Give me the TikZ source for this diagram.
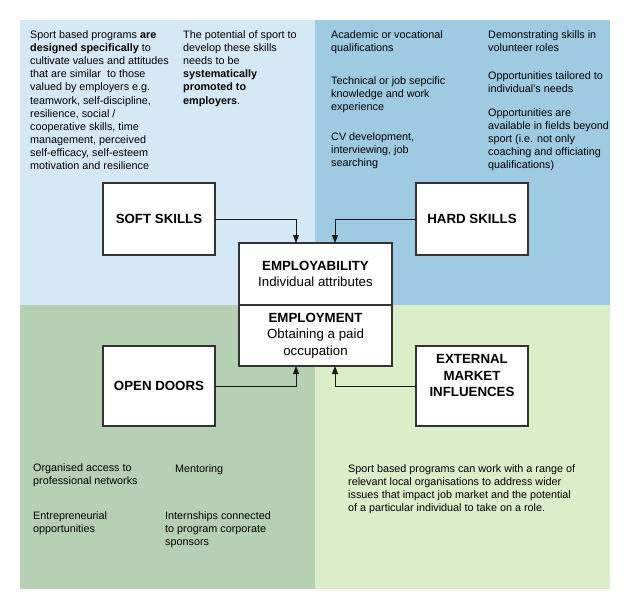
\documentclass[tikz,border=0pt]{standalone}
\usepackage{fontspec}
\setmainfont{Liberation Sans}
\usetikzlibrary{arrows.meta, positioning}
\definecolor{softbg}{HTML}{D5E8F6}
\definecolor{hardbg}{HTML}{9ECAE2}
\definecolor{doorbg}{HTML}{B6D0B4}
\definecolor{extbg}{HTML}{DBEDC9}

\begin{document}
\begin{tikzpicture}[x=1pt, y=-1pt,
  txt/.style={anchor=north west, align=left, inner sep=0pt, font=\fontsize{10.8}{13.1}\selectfont},
  box/.style={draw=black!80, line width=1.3pt, fill=white, outer sep=0pt, minimum width=112pt, minimum height=72pt, align=center, font=\fontsize{13.3}{16.5}\selectfont\bfseries},
  arr/.style={-{Triangle[length=8pt,width=6pt]}, line width=1pt, draw=black!90}]
\useasboundingbox (0,0) rectangle (630,610);
\fill[softbg] (20,20) rectangle (315,305);
\fill[hardbg] (315,20) rectangle (610,305);
\fill[doorbg] (20,305) rectangle (315,589);
\fill[extbg] (315,305) rectangle (610,589);

\node[txt] (softa) at (30,30.5) {Sport based programs \textbf{are}\\\textbf{designed specifically} to\\cultivate values and attitudes\\that are similar\ \ to those\\valued by employers e.g.\\teamwork, self-discipline,\\resilience, social /\\cooperative skills, time\\management, perceived\\self-efficacy, self-esteem\\motivation and resilience};
\node[txt] (softb) at (183,30.5) {The potential of sport to\\develop these skills\\needs to be\\\textbf{systematically}\\\textbf{promoted to}\\\textbf{employers}.};

\node[txt] (harda) at (331,30.5) {Academic or vocational\\qualifications};
\node[txt] (hardb) at (331,76.5) {Technical or job sepcific\\knowledge and work\\experience};
\node[txt] (hardc) at (331,132.5) {CV development,\\interviewing, job\\searching};
\node[txt] (hardd) at (488,30.5) {Demonstrating skills in\\volunteer roles};
\node[txt] (harde) at (488,71.5) {Opportunities tailored to\\individual's needs};
\node[txt] (hardf) at (488,108.5) {Opportunities are\\available in fields beyond\\sport (i.e. not only\\coaching and officiating\\qualifications)};

\node[txt] (doora) at (33,463.5) {Organised access to\\professional networks};
\node[txt] (doorb) at (175,464.5) {Mentoring};
\node[txt] (doorc) at (33,511.5) {Entrepreneurial\\opportunities};
\node[txt] (doord) at (165,511.5) {Internships connected\\to program corporate\\sponsors};

\node[txt] (exta) at (348,464.5) {Sport based programs can work with a range of\\relevant local organisations to address wider\\issues that impact job market and the potential\\of a particular individual to take on a role.};

\node[box] (soft) at (159,219) {SOFT SKILLS};
\node[box] (hard) at (472,219) {HARD SKILLS};
\node[box, minimum height=80pt] (open) at (159,386) {OPEN DOORS};
\node[box, minimum height=80pt] (ext) at (472,386) {};
\node[box, draw=none, fill=none, minimum height=0pt] (extlbl) at ([yshift=10.5pt]ext.center) {EXTERNAL\\MARKET\\INFLUENCES};

\node[box, minimum width=153pt, minimum height=62pt, font=\fontsize{13.3}{16.5}\selectfont] (emp) at (315.5,274) {\textbf{EMPLOYABILITY}\\Individual attributes};
\node[box, minimum width=153pt, minimum height=61pt, font=\fontsize{13.3}{16.5}\selectfont, below=0pt of emp] (job) {\textbf{EMPLOYMENT}\\Obtaining a paid\\occupation};

\draw[arr] (soft.east) -| ([xshift=-19.5pt]emp.north);
\draw[arr] (hard.west) -| ([xshift=19.5pt]emp.north);
\draw[arr] (open.east) -| ([xshift=-19.5pt]job.south);
\draw[arr] (ext.west) -| ([xshift=19.5pt]job.south);
\end{tikzpicture}
\end{document}
